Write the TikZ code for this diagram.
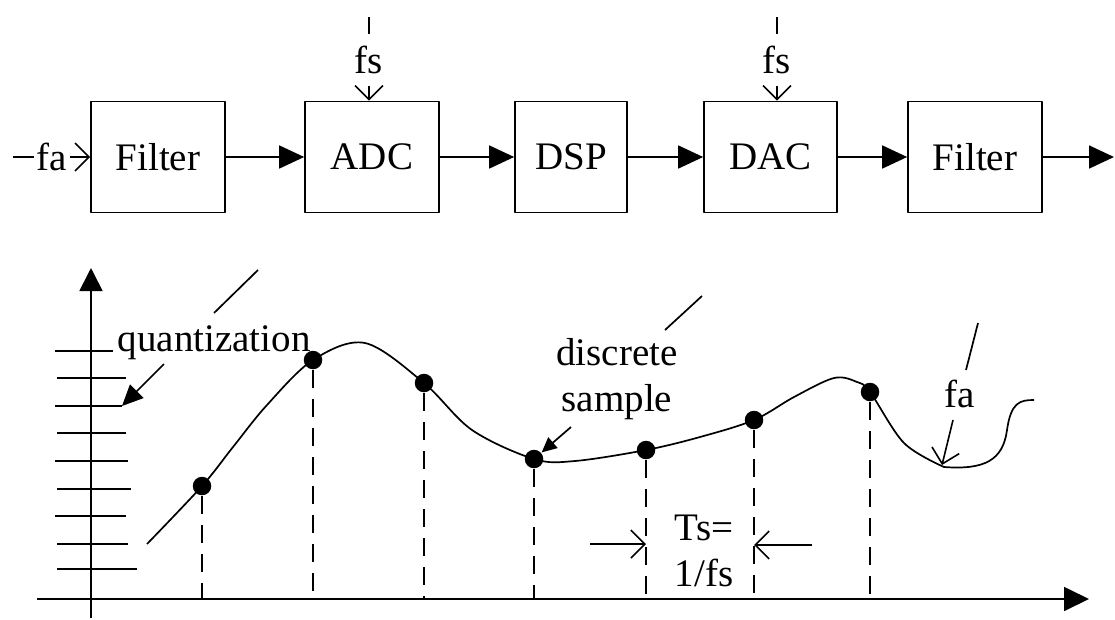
\documentclass[tikz,border=0pt]{standalone}
\usepackage{fontspec}
\setmainfont{Liberation Serif}
\usetikzlibrary{arrows.meta,positioning,calc}

\begin{document}
\begin{tikzpicture}[
 x=1pt,y=-1pt,font=\fontsize{39}{46}\selectfont,
 line width=1.7pt,line join=round,
 block/.style={draw,line width=1.7pt,minimum width=134pt,minimum height=111pt,inner sep=0pt},
 wire/.style={draw,-{Triangle[length=25pt,width=23pt]}},
 barb/.style={draw,line width=1.6pt,-{Straight Barb[length=14pt,width=28pt]}},
 lbl/.style={inner xsep=2pt,inner ysep=11pt},
 sample/.style={circle,fill=black,minimum size=18.5pt,inner sep=0pt},
 drop/.style={draw,line width=1.5pt,dash pattern=on 18pt off 11pt},
 level/.style={draw,line width=1.7pt}]
\path[use as bounding box] (0,0) rectangle (1115,619);

% signal chain
\node[block] (filt1) at (158,157) {Filter};
\node[block] (adc) at (372,157) {ADC};
\node[block,minimum width=112pt] (dsp) at (571,157) {DSP};
\node[block,minimum width=133pt] (dac) at (770.5,157) {DAC};
\node[block] (filt2) at (975,157) {Filter};

\coordinate (src) at (13,157);
\node[lbl] (fa0) at (52,157) {fa};
\draw (src) -- (fa0);
\draw[barb] (fa0) -- (filt1);

\coordinate (ck1) at (369,17);
\node[lbl] (fs1) at (369,60) {fs};
\draw (ck1) -- (fs1);
\draw[barb] (fs1) -- (fs1 |- adc.north);
\coordinate (ck2) at (777,17);
\node[lbl] (fs2) at (777,60) {fs};
\draw (ck2) -- (fs2);
\draw[barb] (fs2) -- (fs2 |- dac.north);

\draw[wire] (filt1) -- (adc);
\draw[wire] (adc) -- (dsp);
\draw[wire] (dsp) -- (dac);
\draw[wire] (dac) -- (filt2);
\coordinate (sink) at (1114,157);
\draw[wire] (filt2) -- (sink);

% sampled signal
\coordinate (O) at (91,599);
\coordinate (ybot) at (91,618);
\coordinate (ytop) at (91,268);
\coordinate (xl) at (37,599);
\coordinate (xr) at (1089,599);
\draw[-{Triangle[length=23pt,width=23pt]}] (ybot) -- (ytop);
\draw[-{Triangle[length=25pt,width=24pt]}] (xl) -- (xr);

\foreach \y/\a/\b [count=\k] in {351/55/113,378/57/126,406/55/122,433/57/126,
  461/55/128,489/57/131,516/55/126,544/57/128,569/57/137}
  \draw[level] (\a,\y) -- (\b,\y) coordinate (l\k);

\draw plot[smooth,tension=0.55] coordinates {(147,544) (202,486) (233,447)
  (267,405) (313,360) (365,343) (424,383) (472,430) (534,459) (575,461)
  (646,450) (700,437) (754,420) (794,397) (834,378) (857,382) (870,392)
  (904,443) (944,467)}
  .. controls (985,470) and (1003,460) .. (1007,430)
  .. controls (1011,402) and (1020,400) .. (1034,400);

\foreach \n/\x/\y in {1/202/486,2/313/360,3/424/383,4/534/459,
  5/646/450,6/754/420,7/870/392} {
  \node[sample] (d\n) at (\x,\y) {};
  \draw[drop] (d\n) -- (d\n |- O);
}

\node[anchor=base west,inner sep=0pt] (qlab) at (117,351) {quantization};
\coordinate (qa) at (164,364);
\draw[-{Triangle[length=21pt,width=19pt]}] (qa) -- (l3);
\draw (214,313) -- (258,270);

\node[align=center] (dslab) at (617,379) {discrete\\sample};
\coordinate (dsa) at (571,427);
\draw[-{Triangle[length=15pt,width=14pt]}] (dsa) -- (d4);
\draw (665,330) -- (702,296);

\node[align=center] (tslab) at (704,551) {Ts=\\1/fs};
\coordinate (tsl) at (590,544);
\draw[barb] (tsl) -- (tsl -| d5);
\coordinate (tsr) at (812,545);
\draw[barb] (tsr) -- (tsr -| d6);

\node[inner sep=0pt] (falab) at (960,394) {fa};
\coordinate (fa1) at (953,420);
\coordinate (fa2) at (942,465);
\draw[barb] (fa1) -- (fa2);
\draw (966,370) -- (978,323);
\end{tikzpicture}
\end{document}
